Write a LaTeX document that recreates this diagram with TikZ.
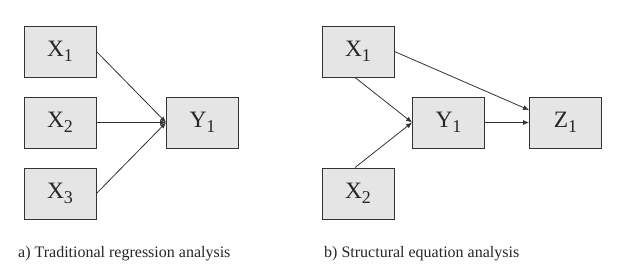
\documentclass[tikz,border=0pt]{standalone}
\usepackage{fontspec}
\setmainfont{Liberation Serif}
\usetikzlibrary{arrows.meta}
\newcommand\lbl[2]{#1\raisebox{-5pt}{\fontsize{18}{18}\selectfont #2}}
\begin{document}
\begin{tikzpicture}[x=1pt,y=-1pt,
  box/.style={draw=black!80,line width=0.9pt,fill=black!10,minimum width=72pt,minimum height=51pt,inner sep=0pt,font=\fontsize{23.5}{23.5}\selectfont,text=black!85},
  arr/.style={draw=black!80,line width=0.8pt,-{Latex[length=6pt,width=5pt]}},
  captext/.style={font=\fontsize{16}{16}\selectfont,anchor=base west,text=black!85,inner sep=0pt}]
\useasboundingbox (0,0) rectangle (633,277);
% panel a
\node[box] (ax1) at (60,51.5) {\lbl{X}{1}};
\node[box] (ax2) at (60,122.5) {\lbl{X}{2}};
\node[box] (ax3) at (60,193.5) {\lbl{X}{3}};
\node[box] (ay1) at (202.5,122.5) {\lbl{Y}{1}};
\draw[arr] (ax1.east) -- (ay1.west);
\draw[arr] (ax2.east) -- (ay1.west);
\draw[arr] (ax3.east) -- (ay1.west);
\node[captext] (capa) at (18,257) {a) Traditional regression analysis};
% panel b
\node[box] (bx1) at (358,51.5) {\lbl{X}{1}};
\node[box] (bx2) at (358,193.5) {\lbl{X}{2}};
\node[box] (by1) at (448.5,122.5) {\lbl{Y}{1}};
\node[box] (bz1) at (565.5,122.5) {\lbl{Z}{1}};
\draw[arr] (bx1.east) -- ([yshift=12.5pt]bz1.west);
\draw[arr] ([xshift=-3pt]bx1.south) -- (by1.west);
\draw[arr] ([xshift=-3pt]bx2.north) -- (by1.west);
\draw[arr] (by1.east) -- (bz1.west);
\node[captext] (capb) at (324,257) {b) Structural equation analysis};
\end{tikzpicture}
\end{document}
